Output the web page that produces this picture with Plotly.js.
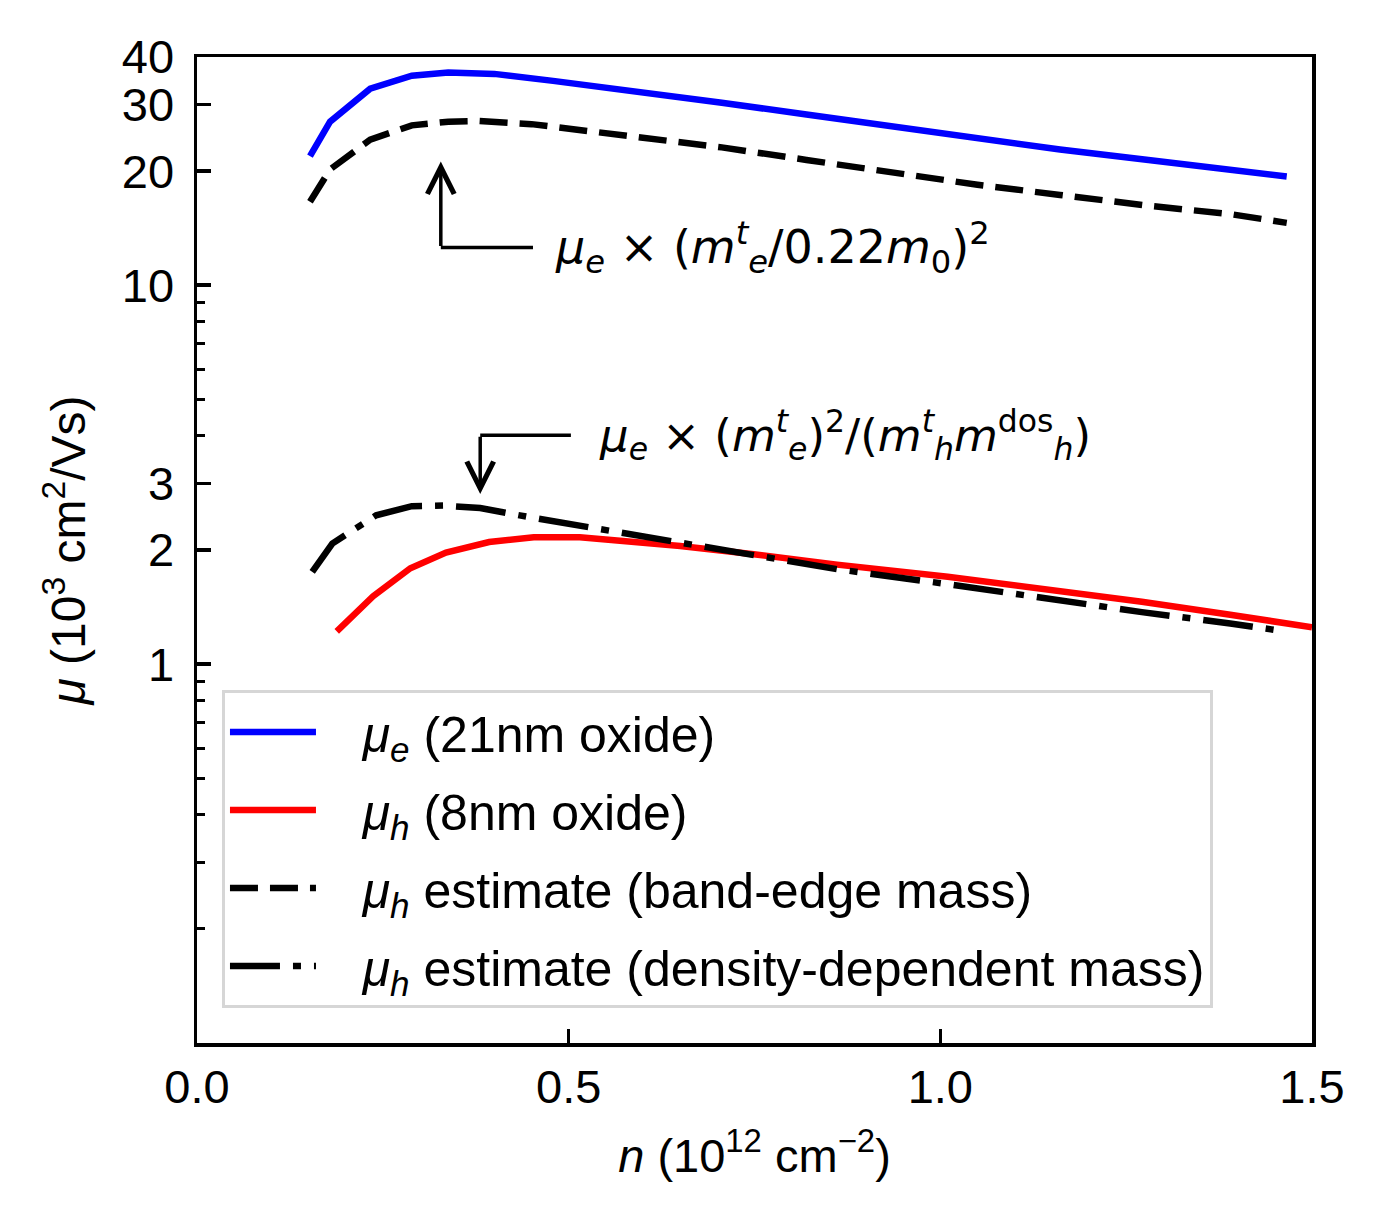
<!DOCTYPE html>
<html>
<head>
<meta charset="utf-8">
<script src="https://cdn.plot.ly/plotly-3.0.1.min.js"></script>
<style>
  html, body { margin: 0; padding: 0; background: #fff; }
  #myDiv { width: 1387px; height: 1231px; }
</style>
</head>
<body>
<div id="myDiv"></div>
<script>
// electron mobility, 21nm oxide (10^3 cm^2/Vs)
var neX = [0.152, 0.179, 0.233, 0.289, 0.338, 0.40, 0.479, 0.60, 0.706, 0.82, 0.934, 1.05, 1.161, 1.28, 1.39, 1.466];
var muE = [21.9, 27.0, 33.0, 35.7, 36.4, 36.1, 34.6, 32.3, 30.3, 28.2, 26.2, 24.4, 22.8, 21.4, 20.2, 19.35];

// hole mobility, 8nm oxide
var nhX = [0.188, 0.237, 0.287, 0.335, 0.393, 0.453, 0.515, 0.573, 0.65, 0.749, 0.861, 1.01, 1.142, 1.271, 1.39, 1.5];
var muH = [1.22, 1.51, 1.79, 1.97, 2.10, 2.16, 2.16, 2.12, 2.05, 1.95, 1.83, 1.70, 1.58, 1.46, 1.35, 1.25];

// estimate with band-edge mass
var bandX = [0.152, 0.179, 0.233, 0.289, 0.338, 0.38, 0.45, 0.55, 0.706, 0.82, 0.934, 1.05, 1.161, 1.28, 1.39, 1.466];
var muBand = [16.6, 20.2, 24.2, 26.4, 27.0, 27.1, 26.6, 25.2, 23.1, 21.4, 19.8, 18.4, 17.3, 16.2, 15.4, 14.6];

// estimate with density-dependent mass
var dosX = [0.155, 0.182, 0.241, 0.289, 0.332, 0.381, 0.448, 0.543, 0.665, 0.779, 0.861, 1.01, 1.142, 1.271, 1.39, 1.461];
var muDos = [1.75, 2.08, 2.47, 2.61, 2.62, 2.58, 2.44, 2.27, 2.07, 1.89, 1.78, 1.625, 1.49, 1.371, 1.28, 1.222];

var xTicks = [0, 0.5, 1.0, 1.5];
var xTickText = ['0.0', '0.5', '1.0', '1.5'];
var yTicks = [1, 2, 3, 10, 20, 30, 40];
var yMinor = [0.2, 0.3, 0.4, 0.5, 0.6, 0.7, 0.8, 0.9, 4, 5, 6, 7, 8, 9];

var lw = 6.5;
var pad = '\u00a0\u00a0\u00a0';
var data = [
  {x: neX, y: muE, name: pad + '<i>μ</i><sub><i>e</i></sub> (21nm oxide)', legendgroup: 'a',
   mode: 'lines', line: {color: '#0000ff', width: lw}},
  {x: nhX, y: muH, name: pad + '<i>μ</i><sub><i>h</i></sub> (8nm oxide)', legendgroup: 'b',
   mode: 'lines', line: {color: '#ff0000', width: lw}},
  {x: bandX, y: muBand, name: pad + '<i>μ</i><sub><i>h</i></sub> estimate (band-edge mass)', legendgroup: 'c',
   mode: 'lines', line: {color: '#000000', width: lw, dash: '28px,12px'}},
  {x: dosX, y: muDos, name: pad + '<i>μ</i><sub><i>h</i></sub> estimate (density-dependent mass)', legendgroup: 'd',
   mode: 'lines', line: {color: '#000000', width: lw, dash: '50px,13px,8px,13px'}}
];

var L = Math.log10;
var elbow = {type: 'line', xref: 'x', yref: 'y', line: {color: '#000', width: 3.5}};

var layout = {
  width: 1387, height: 1231,
  margin: {l: 197, r: 75, t: 57, b: 188},
  paper_bgcolor: '#fff', plot_bgcolor: '#fff',
  font: {family: 'Liberation Sans, Arial, sans-serif', color: '#000', size: 47},
  showlegend: true,
  legend: {
    x: 0.0224, y: 0.358, xanchor: 'left', yanchor: 'top',
    bgcolor: 'rgba(255,255,255,0.8)', bordercolor: '#d6d6d6', borderwidth: 3,
    font: {size: 50}, tracegroupgap: 10, itemwidth: 86
  },
  xaxis: {
    range: [0, 1.5], tickmode: 'array', tickvals: xTicks, ticktext: xTickText,
    ticks: 'inside', ticklen: 14, tickwidth: 3.5, tickcolor: '#000',
    showline: true, linecolor: '#000', linewidth: 3.5, mirror: true,
    showgrid: false, zeroline: false, ticklabelstandoff: 0,
    title: {text: '<i>n</i> (10<sup>12</sup> cm<sup>−2</sup>)', font: {size: 47}, standoff: 28}
  },
  yaxis: {
    type: 'log', range: [-1, L(40)], tickmode: 'array', tickvals: yTicks,
    ticktext: yTicks.map(String),
    ticks: 'inside', ticklen: 14, tickwidth: 3.5, tickcolor: '#000',
    minor: {tickmode: 'array', tickvals: yMinor, ticks: 'inside', ticklen: 8, tickwidth: 3, tickcolor: '#000', showgrid: false},
    showline: true, linecolor: '#000', linewidth: 3.5, mirror: true,
    showgrid: false, zeroline: false, ticklabelstandoff: 10,
    title: {text: '<i>μ</i> (10<sup>3</sup> cm<sup>2</sup>/Vs)', font: {size: 48}, standoff: 22}
  },
  shapes: [
    Object.assign({x0: 0.328, x1: 0.452, y0: 12.57, y1: 12.57}, elbow),
    Object.assign({x0: 0.381, x1: 0.503, y0: 4.015, y1: 4.015}, elbow)
  ],
  annotations: [
    {x: 0.328, y: L(21.2), ax: 0.328, ay: L(12.57), axref: 'x', ayref: 'y', xref: 'x', yref: 'y',
     text: '', showarrow: true, arrowhead: 5, arrowsize: 1.5, arrowwidth: 3.5, arrowcolor: '#000', standoff: 0},
    {x: 0.381, y: L(2.81), ax: 0.381, ay: L(4.015), axref: 'x', ayref: 'y', xref: 'x', yref: 'y',
     text: '', showarrow: true, arrowhead: 5, arrowsize: 1.5, arrowwidth: 3.5, arrowcolor: '#000', standoff: 0},
    {x: 0.479, y: L(12.57), xref: 'x', yref: 'y', xanchor: 'left', yanchor: 'middle', showarrow: false,
     font: {family: 'DejaVu Sans', size: 46},
     text: '<i>μ</i><sub><i>e</i></sub> × (<i>m</i><sup><i>t</i></sup><sub><i>e</i></sub>/0.22<i>m</i><sub>0</sub>)<sup>2</sup>'},
    {x: 0.538, y: L(4.015), xref: 'x', yref: 'y', xanchor: 'left', yanchor: 'middle', showarrow: false,
     font: {family: 'DejaVu Sans', size: 45},
     text: '<i>μ</i><sub><i>e</i></sub> × (<i>m</i><sup><i>t</i></sup><sub><i>e</i></sub>)<sup>2</sup>/(<i>m</i><sup><i>t</i></sup><sub><i>h</i></sub><i>m</i><sup>dos</sup><sub><i>h</i></sub>)'}
  ]
};

Plotly.newPlot('myDiv', data, layout, {displayModeBar: false, staticPlot: true});
</script>
</body>
</html>
